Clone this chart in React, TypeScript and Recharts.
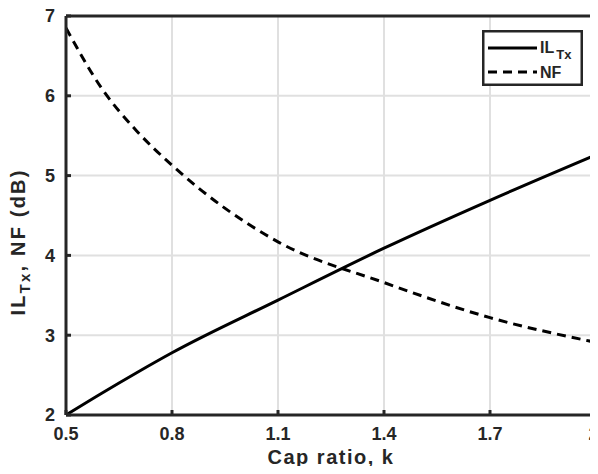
import React from 'react';
import { LineChart, Line, XAxis, YAxis, CartesianGrid, Legend, ReferenceLine } from 'recharts';

// values
const capRatio = [0.5, 0.6, 0.7, 0.8, 1.1, 1.4, 1.7, 2.0];
const ilTx = [2.0, 2.27, 2.53, 2.78, 3.44, 4.09, 4.69, 5.26];
const noiseFigure = [6.85, 6.1, 5.56, 5.13, 4.17, 3.66, 3.22, 2.91];
const xTicks = [0.5, 0.8, 1.1, 1.4, 1.7, 2];
const yTicks = [2, 3, 4, 5, 6, 7];

const data = capRatio.map((k, i) => ({ k, il: ilTx[i], nf: noiseFigure[i] }));

const font = '"Liberation Sans", Arial, sans-serif';
const dark = '#262626';

function YLabel() {
  const cx = 18;
  const cy = 242;
  return (
    <text
      x={cx}
      y={cy}
      transform={`rotate(-90, ${cx}, ${cy})`}
      textAnchor="middle"
      dominantBaseline="central"
      fontFamily={font}
      fontWeight="bold"
      fontSize={20}
      letterSpacing={2.2}
      fill={dark}
    >
      IL
      <tspan fontSize={15} dy={6}>Tx</tspan>
      <tspan dy={-6}>, NF (dB)</tspan>
    </text>
  );
}

function LegendBox() {
  return (
    <svg width={101} height={56} style={{ display: 'block' }}>
      <rect x={1.25} y={1.25} width={98.5} height={53.5} fill="#fff" stroke={dark} strokeWidth={2.5} />
      <line x1={6} y1={18} x2={55} y2={18} stroke="#000" strokeWidth={3} />
      <text x={58} y={23} fontFamily={font} fontWeight="bold" fontSize={16} fill={dark}>
        IL<tspan fontSize={13} dx={2} dy={6}>Tx</tspan>
      </text>
      <line x1={6} y1={42} x2={55} y2={42} stroke="#000" strokeWidth={3} strokeDasharray="9 6" />
      <text x={58} y={48} fontFamily={font} fontWeight="bold" fontSize={16} fill={dark}>
        NF
      </text>
    </svg>
  );
}

export default function App() {
  return (
    <div style={{ margin: -8, width: 598, height: 474, background: '#fff' }}>
      <LineChart
        width={598}
        height={474}
        data={data}
        margin={{ top: 16, right: 2, bottom: 0, left: 0 }}
      >
        <CartesianGrid stroke="#e0e0e0" strokeWidth={2} horizontalValues={yTicks} verticalValues={xTicks} />
        <XAxis
          dataKey="k"
          type="number"
          domain={[0.5, 2]}
          ticks={xTicks}
          allowDataOverflow
          height={59}
          stroke={dark}
          strokeWidth={3}
          tickSize={-5}
          tickMargin={17}
          tick={{ fill: dark, fontFamily: font, fontWeight: 'bold', fontSize: 18 }}
          label={{
            value: 'Cap ratio, k',
            position: 'insideBottom',
            offset: 10,
            fill: dark,
            fontFamily: font,
            fontWeight: 'bold',
            fontSize: 20,
            letterSpacing: 1.5,
          }}
        />
        <YAxis
          type="number"
          domain={[2, 7]}
          ticks={yTicks}
          allowDataOverflow
          width={66}
          stroke={dark}
          strokeWidth={3}
          tickSize={-5}
          tickMargin={16}
          tick={{ fill: dark, fontFamily: font, fontWeight: 'bold', fontSize: 18 }}
          label={<YLabel />}
        />
        <ReferenceLine y={7} stroke={dark} strokeWidth={3} />
        <ReferenceLine x={2} stroke={dark} strokeWidth={3} />
        <Line
          dataKey="il"
          type="monotone"
          stroke="#000"
          strokeWidth={3}
          dot={false}
          isAnimationActive={false}
        />
        <Line
          dataKey="nf"
          type="monotone"
          stroke="#000"
          strokeWidth={3}
          strokeDasharray="9 6"
          dot={false}
          isAnimationActive={false}
        />
        <Legend
          layout="vertical"
          align="center"
          verticalAlign="middle"
          content={() => <LegendBox />}
          wrapperStyle={{ position: 'absolute', left: 482, top: 30, width: 101, height: 56, margin: 0, padding: 0 }}
        />
      </LineChart>
    </div>
  );
}
